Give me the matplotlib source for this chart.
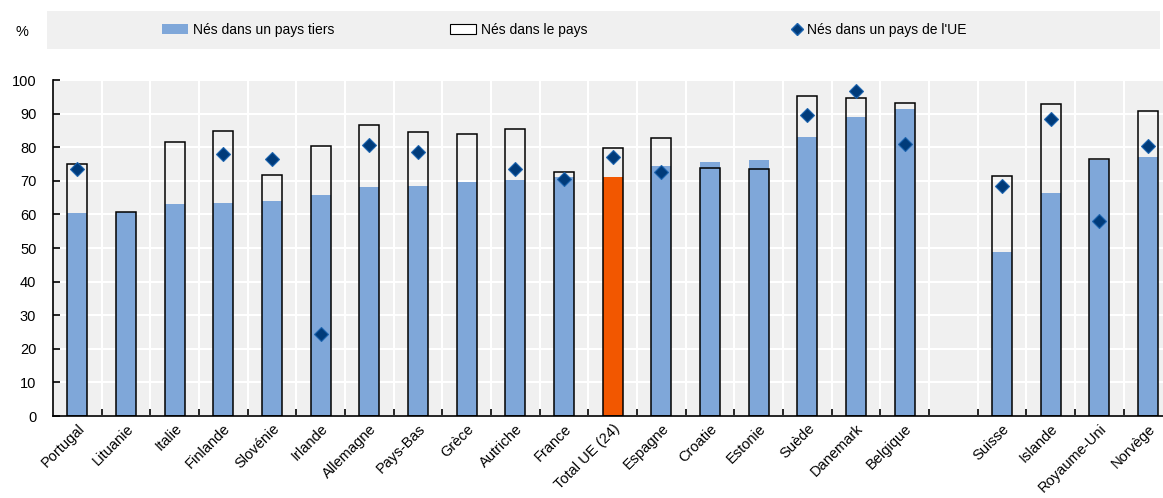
import numpy as np
import matplotlib
matplotlib.use("Agg")
import matplotlib.pyplot as plt
import matplotlib.transforms as mtransforms
from matplotlib.patches import Patch, Rectangle
from matplotlib.lines import Line2D

# Data; empty string = spacer between EU and non-EU countries
pays = ["Portugal", "Lituanie", "Italie", "Finlande", "Slovénie", "Irlande", "Allemagne",
        "Pays-Bas", "Grèce", "Autriche", "France", "Total UE (24)", "Espagne", "Croatie",
        "Estonie", "Suède", "Danemark", "Belgique", "", "Suisse", "Islande", "Royaume-Uni", "Norvège"]
nes_tiers = [60.5, 60.8, 63.1, 63.3, 64.0, 65.8, 68.3, 68.5, 69.6, 70.3, 71.0, 71.1, 74.4,
             75.6, 76.2, 82.9, 89.0, 91.3, np.nan, 48.9, 66.3, 76.2, 77.2]
nes_pays = [75.0, 60.6, 81.5, 84.8, 71.7, 80.5, 86.5, 84.5, 83.8, 85.5, 72.5, 79.9, 82.8,
            73.7, 73.6, 95.3, 94.5, 93.2, np.nan, 71.4, 92.9, 76.4, 90.9]
nes_ue = [73.5, np.nan, np.nan, 78.1, 76.4, 24.5, 80.8, 78.5, np.nan, 73.4, 70.6, 77.0, 72.6,
          np.nan, np.nan, 89.5, 96.7, 81.0, np.nan, 68.5, 88.5, 58.0, 80.4]
highlight = "Total UE (24)"

BLUE = "#7FA7D9"
ORANGE = "#F25700"
NAVY = "#003B7A"
BG = "#F0F0F0"

plt.rcParams["font.family"] = ["Liberation Sans", "DejaVu Sans"]
plt.rcParams["font.size"] = 10.5

fig = plt.figure(figsize=(11.63, 4.98), dpi=100)
ax = fig.add_axes([53 / 1163, 1 - 416 / 498, 1 - 53 / 1163, (416 - 80) / 498])
ax.set_facecolor(BG)

x = np.arange(len(pays))
colors = [ORANGE if p == highlight else BLUE for p in pays]
w = 0.41
ax.bar(x, nes_tiers, width=w, color=colors, zorder=2)
ax.bar(x, nes_pays, width=w, facecolor="none", edgecolor="black", linewidth=1.1, zorder=3)
ax.plot(x, nes_ue, linestyle="none", marker="D", markersize=7, markerfacecolor=NAVY,
        markeredgecolor="#1C64B0", markeredgewidth=0.8, zorder=4)

ax.set_ylim(0, 100)
ax.set_xlim(-0.5, len(pays) - 1 + 0.31)
ax.set_yticks(np.arange(0, 101, 10))
ax.set_xticks(x)
ax.set_xticklabels(pays, rotation=45, ha="right", rotation_mode="anchor")
shift = mtransforms.ScaledTranslation(-6 / 100, 0, fig.dpi_scale_trans)
for lab in ax.get_xticklabels():
    lab.set_transform(lab.get_transform() + shift)
ax.set_xticks(np.arange(0.5, len(pays) - 1, 1), minor=True)
ax.tick_params(axis="x", which="major", length=0, pad=4)
ax.tick_params(axis="x", which="minor", direction="in", length=5, width=1.2, color="black")
ax.tick_params(axis="y", direction="in", length=5, width=1.2, pad=12)

ax.grid(axis="y", color="white", linewidth=1.5, zorder=0)
ax.grid(axis="x", which="minor", color="white", linewidth=1.5, zorder=0)
ax.set_axisbelow(True)
for s in ["top", "right"]:
    ax.spines[s].set_visible(False)
ax.spines["left"].set_linewidth(1.2)
ax.spines["bottom"].set_linewidth(1.2)

# legend band
fig.patches.append(Rectangle((47 / 1163, 1 - 49 / 498), (1160 - 47) / 1163, 38 / 498,
                             transform=fig.transFigure, facecolor=BG, edgecolor="none", zorder=0))
fig.text(22 / 1163, 1 - 32 / 498, "%", ha="center", va="center")

items = [
    (Patch(facecolor=BLUE, edgecolor="none"), "Nés dans un pays tiers", 162, 1.9, 0.35),
    (Patch(facecolor="white", edgecolor="black", linewidth=0.8), "Nés dans le pays", 450, 1.9, 0.35),
    (Line2D([], [], linestyle="none", marker="D", markersize=6, markerfacecolor=NAVY,
            markeredgecolor="#1C64B0"), "Nés dans un pays de l'UE", 791, 0.9, 0.25),
]
for h, lab, px, hl, tp in items:
    fig.legend([h], [lab], loc="center left", bbox_to_anchor=(px / 1163, 1 - 30 / 498),
               frameon=False, fontsize=10, handlelength=hl, handletextpad=tp,
               borderpad=0, borderaxespad=0)

fig.savefig("out.png", dpi=100)
